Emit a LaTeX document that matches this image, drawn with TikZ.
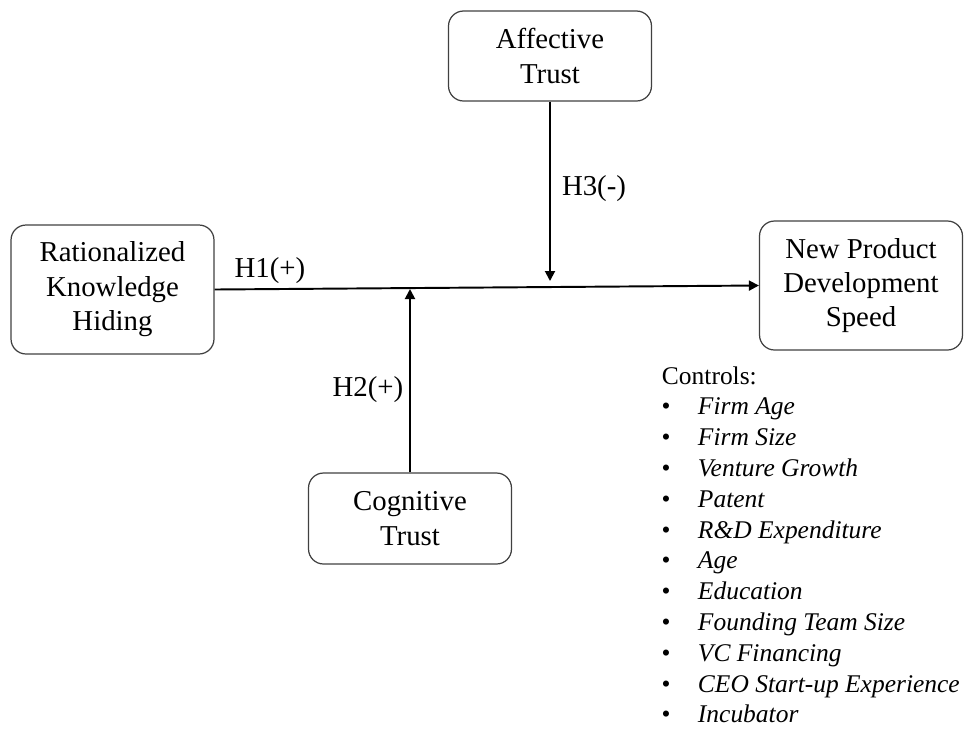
\documentclass[tikz,border=0pt]{standalone}
\usepackage{fontspec}
\setmainfont{Liberation Serif}
\usetikzlibrary{arrows.meta}

\begin{document}
\begin{tikzpicture}[x=0.02cm,y=-0.02cm,line width=1.1pt]
\tikzstyle{factor}=[draw=black!75,line width=0.7pt,rounded corners=0.3cm,align=center,minimum width=4.06cm,font=\fontsize{16.4}{19.6}\selectfont]
\tikzstyle{hyp}=[inner sep=0,font=\fontsize{16.4}{19.6}\selectfont]
\tikzstyle{link}=[-{Triangle[length=0.2cm,width=0.2cm]}]
\tikzstyle{ctrl}=[anchor=base west,inner sep=0,font=\fontsize{14.5}{17}\selectfont]
\useasboundingbox (0,0) rectangle (966,731);
% constructs
\node[factor,minimum height=2.58cm] (rkh) at (112.5,289.5) {Rationalized\\Knowledge\\Hiding};
\node[factor,minimum height=2.58cm] (npd) at (861,285.5) {New Product\\Development\\Speed};
\node[factor,minimum height=1.8cm] (at) at (550,56) {Affective\\Trust};
\node[factor,minimum height=1.82cm] (ct) at (410,518.5) {Cognitive\\Trust};
% paths
\coordinate (m3) at (550,281);
\coordinate (m2) at (410,289);
\draw[link] (rkh.east) -- (npd.west);
\draw[link] (at.south) -- (m3);
\draw[link] (ct.north) -- (m2);
\node[hyp] (h1) at (270,271) {H1(+)};
\node[hyp] (h2) at (368,390) {H2(+)};
\node[hyp] (h3) at (594,189) {H3(-)};
% controls
\node[ctrl] (ctrl) at (661,384) {Controls:};
\foreach \i/\t in {1/Firm Age,2/Firm Size,3/Venture Growth,4/Patent,5/R\&D Expenditure,6/Age,7/Education,8/Founding Team Size,9/VC Financing,10/CEO Start-up Experience,11/Incubator}{
\node[ctrl,anchor=base] (b\i) at (666,384+30.8*\i) {\textbullet};
\node[ctrl] (c\i) at (697,384+30.8*\i) {\itshape\t};
}
\end{tikzpicture}
\end{document}
